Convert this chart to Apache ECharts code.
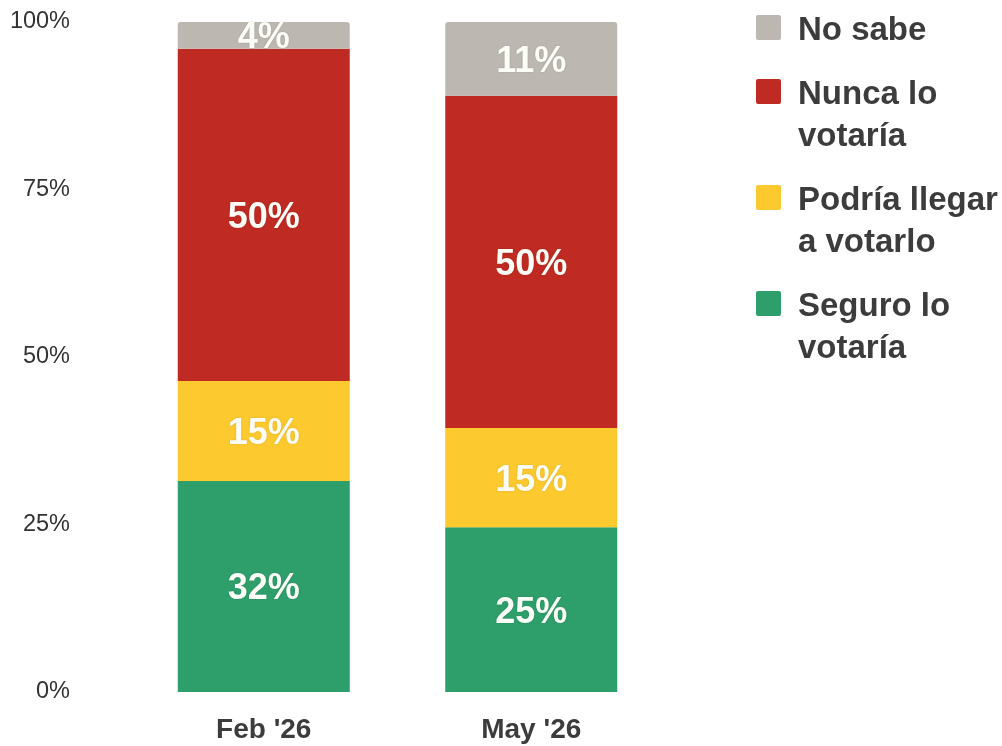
<!DOCTYPE html>
<html>
<head>
<meta charset="utf-8">
<script src="https://cdn.jsdelivr.net/npm/echarts@6/dist/echarts.min.js"></script>
<style>
html,body{margin:0;padding:0;background:#fff;}
#chart{width:1002px;height:746px;}
</style>
</head>
<body>
<div id="chart"></div>
<script>
const categories = ["Feb '26", "May '26"];
const seguro = [31.5, 24.6];
const podria = [14.9, 14.8];
const nunca = [49.6, 49.6];
const noSabe = [4.0, 11.0];
const yTicks = [0, 25, 50, 75, 100];

const seriesNames = ['Seguro lo votaría', 'Podría llegar a votarlo', 'Nunca lo votaría', 'No sabe'];
const legendLines = [['No sabe'], ['Nunca lo', 'votaría'], ['Podría llegar', 'a votarlo'], ['Seguro lo', 'votaría']];
const colors = ['#2e9e6a', '#fcc92f', '#bf2a22', '#bcb8b1'];
const legendColors = ['#bcb8b1', '#bf2a22', '#fcc92f', '#2e9e6a'];

const font = 'Liberation Sans, Arial, sans-serif';
const chart = echarts.init(document.getElementById('chart'), null, {renderer: 'canvas'});

function mkSeries(name, data, color, isTop) {
  return {
    name: name,
    type: 'bar',
    stack: 'total',
    data: data,
    barWidth: 172,
    itemStyle: { color: color, borderRadius: isTop ? [3, 3, 0, 0] : 0 },
    label: {
      show: true,
      position: 'inside',
      offset: [0, 3],
      formatter: p => Math.round(p.value) + '%',
      color: '#fdfdf8',
      fontFamily: font,
      fontWeight: 'bold',
      fontSize: 36,
      textShadowColor: 'rgba(0,0,0,0.15)',
      textShadowBlur: 2
    }
  };
}

// legend drawn as graphic, built from the legend arrays
const graphics = [];
let y = 13;
legendLines.forEach((lines, i) => {
  graphics.push({
    type: 'rect', left: 756, top: y + 2,
    shape: { width: 25, height: 25, r: 2 },
    style: { fill: legendColors[i] }
  });
  graphics.push({
    type: 'text', left: 798, top: y - 3,
    style: {
      text: lines.join('\n'),
      fill: '#3c3c3c',
      font: 'bold 33px ' + font,
      lineHeight: 42
    }
  });
  y += 42 * lines.length + 22;
});

chart.setOption({
  animation: false,
  grid: { left: 130, right: 337, top: 22, bottom: 54 },
  xAxis: {
    type: 'category',
    data: categories,
    axisLine: { show: false },
    axisTick: { show: false },
    axisLabel: {
      color: '#3c3c3c', fontFamily: font, fontWeight: 'bold', fontSize: 28, margin: 24
    }
  },
  yAxis: {
    type: 'value',
    min: yTicks[0], max: yTicks[yTicks.length - 1], interval: 25,
    splitLine: { show: false },
    axisLine: { show: false },
    axisTick: { show: false },
    axisLabel: {
      color: '#333333', fontFamily: font, fontSize: 23.5, margin: 60,
      padding: [5, 0, 0, 0],
      formatter: v => v + '%'
    }
  },
  series: [
    mkSeries(seriesNames[0], seguro, colors[0], false),
    mkSeries(seriesNames[1], podria, colors[1], false),
    mkSeries(seriesNames[2], nunca, colors[2], false),
    mkSeries(seriesNames[3], noSabe, colors[3], true)
  ],
  graphic: graphics
});
</script>
</body>
</html>
